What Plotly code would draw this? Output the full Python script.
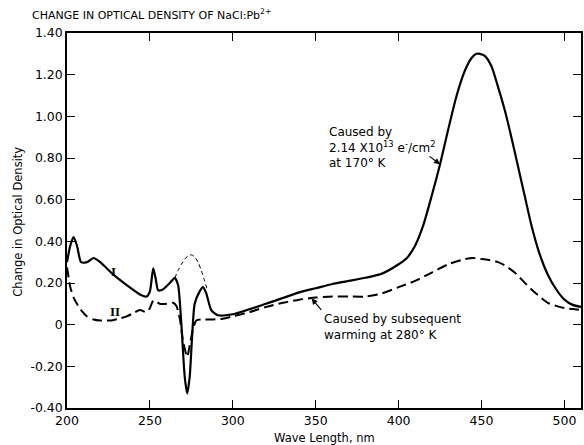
import plotly.graph_objects as go

# Curve I (solid): change caused by irradiation at 170 K
wl_I = [200, 202, 204, 206, 208.5, 212, 216, 220, 228, 236, 244, 248, 250, 252, 253.5, 255, 258, 262, 265, 267,
        269, 271, 272.5, 274, 275.5, 277, 280, 282, 284, 287, 291, 300, 320, 340, 350, 360, 370, 380, 390,
        400, 405, 410, 415, 420, 425, 430, 435, 440, 444, 447, 449, 452, 456, 460, 464, 468, 472, 476, 480,
        485, 490, 495, 500, 505, 510]
od_I = [0.30, 0.38, 0.42, 0.38, 0.30, 0.30, 0.32, 0.30, 0.24, 0.19, 0.145, 0.135, 0.16, 0.27, 0.22, 0.165, 0.17, 0.20, 0.225, 0.19,
        0.00, -0.25, -0.33, -0.25, -0.05, 0.10, 0.16, 0.18, 0.15, 0.07, 0.045, 0.05, 0.10, 0.155, 0.175, 0.195, 0.21, 0.225, 0.245,
        0.29, 0.32, 0.38, 0.48, 0.62, 0.77, 0.94, 1.10, 1.22, 1.28, 1.30, 1.30, 1.29, 1.24, 1.14, 1.03, 0.90, 0.76, 0.62, 0.48,
        0.34, 0.24, 0.17, 0.12, 0.095, 0.085]

# Curve II (dashed): after subsequent warming at 280 K
wl_II = [200, 202, 204, 206, 209, 212, 216, 220, 226, 232, 236, 240, 244, 248, 250, 252, 254, 256, 260, 264, 266,
         268, 270, 272.5, 274, 276, 278, 281, 288, 294, 300, 310, 320, 330, 340, 350, 360, 370, 380, 390, 400,
         410, 420, 430, 440, 445, 450, 455, 460, 465, 470, 475, 480, 485, 490, 495, 500, 505, 510]
od_II = [0.275, 0.18, 0.13, 0.10, 0.065, 0.04, 0.025, 0.02, 0.02, 0.03, 0.04, 0.055, 0.07, 0.06, 0.08, 0.115, 0.11, 0.10, 0.10, 0.105, 0.09,
         0.03, -0.08, -0.155, -0.10, -0.02, 0.02, 0.025, 0.025, 0.028, 0.04, 0.06, 0.085, 0.105, 0.12, 0.13, 0.135, 0.135, 0.135, 0.15, 0.18,
         0.21, 0.25, 0.29, 0.315, 0.32, 0.315, 0.31, 0.30, 0.28, 0.25, 0.21, 0.17, 0.135, 0.105, 0.09, 0.08, 0.075, 0.07]

# Thin dashed: band I interpolated through the dip region
wl_int = [265, 267, 269, 271, 273, 275, 277, 279, 281, 283, 284.5]
od_int = [0.225, 0.26, 0.29, 0.315, 0.33, 0.335, 0.325, 0.30, 0.26, 0.21, 0.17]

x_ticks = [200, 250, 300, 350, 400, 450, 500]
y_ticks = [-0.4, -0.2, 0, 0.2, 0.4, 0.6, 0.8, 1.0, 1.2, 1.4]
y_ticktext = ["-0.40", "-0.20", "0", "0.20", "0.40", "0.60", "0.80", "1.00", "1.20", "1.40"]

FONT = "DejaVu Sans"

fig = go.Figure()
fig.add_trace(go.Scatter(x=wl_int, y=od_int, mode="lines", line=dict(color="black", width=1, dash="4px,3px", shape="spline", smoothing=0.8), showlegend=False))
fig.add_trace(go.Scatter(x=wl_II, y=od_II, mode="lines", line=dict(color="black", width=2, dash="10px,5px", shape="spline", smoothing=0.6), showlegend=False))
fig.add_trace(go.Scatter(x=wl_I, y=od_I, mode="lines", line=dict(color="black", width=2.2, shape="spline", smoothing=0.6), showlegend=False))

fig.update_layout(
    width=584, height=445,
    margin=dict(l=67, r=3, t=33, b=37),
    paper_bgcolor="white", plot_bgcolor="white",
    font=dict(family=FONT, color="black", size=12),
    showlegend=False,
)
fig.update_xaxes(range=[200, 510], tickvals=x_ticks, ticks="inside", ticklen=8, tickwidth=1.2, tickcolor="black",
                 showline=True, linecolor="black", linewidth=1.5, mirror="ticks", showgrid=False, zeroline=False,
                 tickfont=dict(size=12.5), automargin=False)
fig.update_yaxes(range=[-0.4, 1.4], tickvals=y_ticks, ticktext=y_ticktext, ticks="inside", ticklen=8, tickwidth=1.2, tickcolor="black",
                 showline=True, linecolor="black", linewidth=1.5, mirror="ticks", showgrid=False, zeroline=False,
                 tickfont=dict(size=12.5), automargin=False)

# Axis titles as positioned text
fig.add_annotation(text="Wave Length, nm", xref="paper", yref="paper", x=0.5, y=-0.08, xanchor="center", yanchor="middle",
                   showarrow=False, font=dict(size=11.5))
fig.add_annotation(text="Change in Optical Density", xref="paper", yref="paper", x=-0.096, y=0.496, textangle=-90,
                   xanchor="center", yanchor="middle", showarrow=False, font=dict(size=11.5))
fig.add_annotation(text="CHANGE IN OPTICAL DENSITY OF NaCl:Pb<sup>2+</sup>", xref="paper", yref="paper",
                   x=-0.072, y=1.025, xanchor="left", yanchor="bottom", showarrow=False, font=dict(size=11))

fig.add_annotation(text="<b>I</b>", x=228, y=0.256, showarrow=False, font=dict(size=13, family="Liberation Serif"))
fig.add_annotation(text="<b>II</b>", x=229, y=0.063, showarrow=False, font=dict(size=13, family="Liberation Serif"))

# Label for curve I with its arrow
fig.add_annotation(text="Caused by<br>2.14 X10<sup>13</sup> e<sup>-</sup>/cm<sup>2</sup><br>at 170° K", x=357, y=0.97,
                   xanchor="left", yanchor="top", align="left", showarrow=False, font=dict(size=12))
fig.add_annotation(text="", x=425, y=0.77, ax=-12, ay=-9, showarrow=True, arrowhead=2, arrowsize=1, arrowwidth=1.2,
                   standoff=0, arrowcolor="black")

# Label for curve II with its arrow
fig.add_annotation(text="Caused by subsequent<br>warming at 280° K", x=354, y=0.07, xanchor="left", yanchor="top", align="left",
                   showarrow=False, font=dict(size=12))
fig.add_annotation(text="", x=347.5, y=0.126, ax=11, ay=13, showarrow=True, arrowhead=2, arrowsize=1, arrowwidth=1.2,
                   standoff=0, arrowcolor="black")

fig.write_html("out.html", config={"displayModeBar": False},
               post_script="document.body.style.margin='0';document.body.style.overflow='hidden';")
